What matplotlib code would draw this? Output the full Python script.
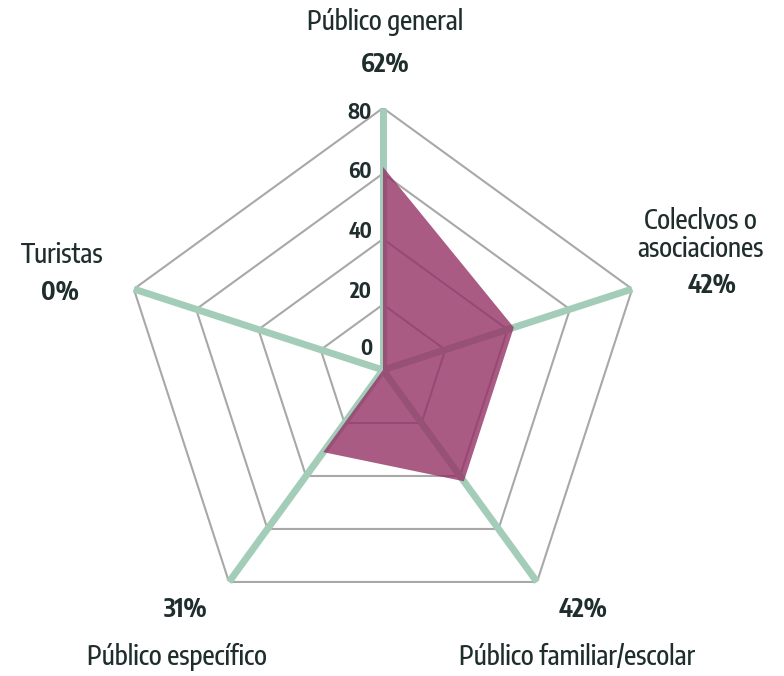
import numpy as np
import matplotlib.pyplot as plt

categories = ["Público general", "Coleclvos o\nasociaciones", "Público familiar/escolar",
              "Público específico", "Turistas"]
values = [62, 42, 42, 31, 0]
ticks = [0, 20, 40, 60, 80]

# label offsets from each outer vertex, in pixels: (name, percent)
name_off = [(2, 86), (68, 54), (40, -75), (-52, -75), (-72, 34)]
pct_off = [(2, 43), (80, 3), (46, -28), (-44, -28), (-74, -4)]
tick_dy = [21, 13, 7, 1, -5]

txt_col = '#1f2d2d'
font = ['Encode Sans Condensed', 'Fira Sans Condensed', 'Barlow Semi Condensed', 'DejaVu Sans']

fig = plt.figure(figsize=(7.84, 6.76), dpi=100)
cx, cy, R = 383, 676 - 370, 262
ax = fig.add_axes([(cx - R) / 784, (cy - R) / 676, 2 * R / 784, 2 * R / 676], projection='polar')
ax.set_theta_offset(np.pi / 2)
ax.set_theta_direction(-1)
ax.set_ylim(0, 80)
ax.grid(False)
ax.spines['polar'].set_visible(False)
ax.set_xticks([])
ax.set_yticks([])
ax.patch.set_alpha(0)

n = len(categories)
theta = np.arange(n) * 2 * np.pi / n
th_closed = np.append(theta, theta[0])

# pentagon grid
for t in ticks[1:]:
    ax.plot(th_closed, [t] * (n + 1), color='#a8a8a8', lw=1.5, zorder=1)

# spokes
for th in theta:
    ax.plot([th, th], [0, 80], color='#a3cdb9', lw=5, solid_capstyle='butt', zorder=2)

# data polygon
v = np.append(values, values[0])
ax.fill(th_closed, v, color='#953266', alpha=0.8, lw=0, zorder=3)

# radial tick labels
for t, dy in zip(ticks, tick_dy):
    ax.annotate(str(t), xy=(0, t), xytext=(-11, dy), textcoords='offset pixels',
                ha='right', va='center', fontsize=15, fontweight='bold',
                color=txt_col, family=font)

for i in range(n):
    ax.annotate(categories[i], xy=(theta[i], 80), xytext=name_off[i],
                textcoords='offset pixels', ha='center', va='center',
                fontsize=19, fontweight='medium', color=txt_col, family=font,
                linespacing=1.0, annotation_clip=False)
    ax.annotate(f"{values[i]}%", xy=(theta[i], 80), xytext=pct_off[i],
                textcoords='offset pixels', ha='center', va='center',
                fontsize=18, fontweight='bold', color=txt_col, family=font,
                annotation_clip=False)

fig.savefig('out.png', dpi=100)
